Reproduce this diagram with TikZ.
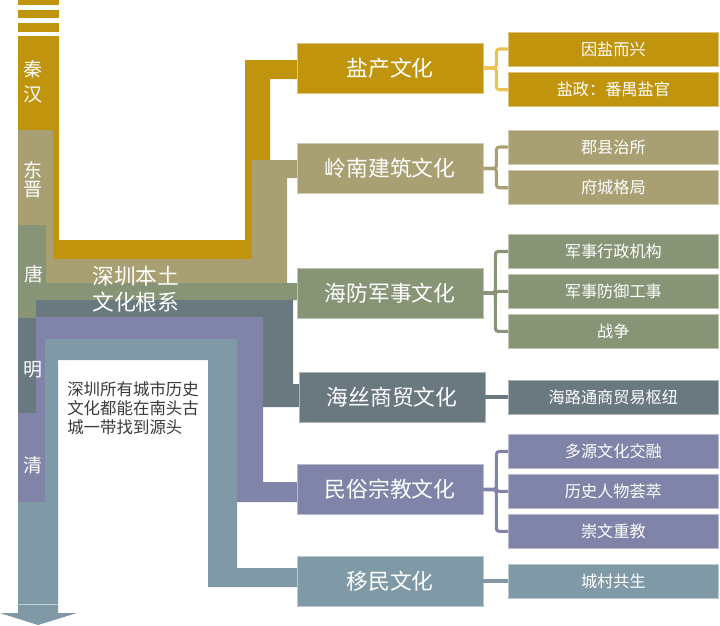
\documentclass[tikz,border=0pt]{standalone}
\usepackage{fontspec}
\setmainfont{Noto Sans CJK SC}
\usetikzlibrary{positioning}

\definecolor{qinhan}{HTML}{C1940E}
\definecolor{qinhanlt}{HTML}{EBC350}
\definecolor{dongjin}{HTML}{A8A073}
\definecolor{tang}{HTML}{879475}
\definecolor{ming}{HTML}{6A7880}
\definecolor{qing}{HTML}{8084A8}
\definecolor{yimin}{HTML}{7F99A6}
\definecolor{notetext}{HTML}{3A3A3A}

\tikzset{
  mainbox/.style={fill=#1, draw=#1!55!white, line width=0.5pt, text=white,
    minimum width=4.65cm, minimum height=1.25cm, inner sep=0pt,
    font=\fontsize{15.5pt}{18pt}\selectfont},
  subbox/.style={fill=#1, draw=#1!55!white, line width=0.5pt, text=white,
    minimum width=5.25cm, minimum height=0.85cm, inner sep=0pt, anchor=west,
    font=\fontsize{11.5pt}{14pt}\selectfont},
  brk/.style={draw=#1, line width=2.2pt, rounded corners=2pt},
  era/.style={text=white, inner sep=0pt, font=\fontsize{13.5pt}{16pt}\selectfont}
}

\begin{document}
\begin{tikzpicture}[x=0.025cm,y=-0.025cm]

\useasboundingbox (0,0) rectangle (720,625);

% top stripes
\fill[qinhan] (18,0) rectangle (59,5);
\fill[qinhan] (18,10) rectangle (59,18);
\fill[qinhan] (18,23) rectangle (59,32);

% era bands
\fill[qinhan] (18,36) -- (59,36) -- (59,240) -- (245,240) -- (245,60) -- (300,60)
  -- (300,79) -- (270,79) -- (270,259) -- (18,259) -- cycle;
\fill[dongjin] (18,130) -- (53,130) -- (53,259) -- (252,259) -- (252,160) -- (300,160)
  -- (300,178) -- (287,178) -- (287,283) -- (18,283) -- cycle;
\fill[tang] (18,225) -- (46,225) -- (46,283) -- (300,283) -- (300,300)
  -- (36,300) -- (36,318) -- (18,318) -- cycle;
\fill[ming] (18,413) -- (18,318) -- (36,318) -- (36,300) -- (293,300) -- (293,384)
  -- (303,384) -- (303,407) -- (263,407) -- (263,318) -- (45,318) -- (45,413) -- cycle;
\fill[qing] (18,502) -- (18,413) -- (36,413) -- (36,317) -- (263,317) -- (263,482)
  -- (300,482) -- (300,502) -- (237,502) -- (237,339) -- (45,339) -- (45,502) -- cycle;
\fill[yimin] (18,613) -- (18,502) -- (45,502) -- (45,339) -- (237,339) -- (237,568)
  -- (300,568) -- (300,587) -- (208,587) -- (208,360) -- (58,360) -- (58,613) -- cycle;

% arrow head
\fill[yimin] (0,613) -- (77,613) -- (38,625) -- cycle;
\draw[yimin!45!white, line width=0.7pt] (18,604) -- (58,604);

% era labels
\node[era] (qin) at (33,69) {秦};
\node[era] (han) at (33,94) {汉};
\node[era] (dong) at (33,170) {东};
\node[era] (jin) at (33,190) {晋};
\node[era] (tangl) at (34,274) {唐};
\node[era] (mingl) at (33,370) {明};
\node[era] (qingl) at (33,465) {清};

% root title and note
\node[text=white, align=left, anchor=west, inner sep=0pt,
  font=\fontsize{15.5pt}{18.5pt}\selectfont] (root) at (92,289) {深圳本土\\文化根系};
\node[text=notetext, align=left, anchor=north west, inner sep=0pt,
  font=\fontsize{11.7pt}{13.6pt}\selectfont] (note) at (67,381)
  {深圳所有城市历史\\文化都能在南头古\\城一带找到源头};

% main boxes
\node[mainbox=qinhan] (salt) at (390,68) {盐产文化};
\node[mainbox=dongjin] (lingnan) at (390,168.5) {岭南建筑文化};
\node[mainbox=tang] (haifang) at (390,293) {海防军事文化};
\node[mainbox=ming] (haisi) at (392,397) {海丝商贸文化};
\node[mainbox=qing] (minsu) at (390,489.5) {民俗宗教文化};
\node[mainbox=yimin] (yiminb) at (390,581) {移民文化};

% sub boxes
\node[subbox=qinhan] (yinyan) at (508,49) {因盐而兴};
\node[subbox=qinhan, below=0.15cm of yinyan] (yanzheng) {盐政：番禺盐官};
\node[subbox=dongjin] (junxian) at (508,147) {郡县治所};
\node[subbox=dongjin, below=0.15cm of junxian] (fucheng) {府城格局};
\node[subbox=tang] (junzheng) at (508,251.5) {军事行政机构};
\node[subbox=tang, below=0.13cm of junzheng] (junfang) {军事防御工事};
\node[subbox=tang, below=0.13cm of junfang] (zhanzheng) {战争};
\node[subbox=ming] (hailu) at (508,397) {海路通商贸易枢纽};
\node[subbox=qing] (duoyuan) at (508,451.5) {多源文化交融};
\node[subbox=qing, below=0.13cm of duoyuan] (lishi) {历史人物荟萃};
\node[subbox=qing, below=0.13cm of lishi] (chongwen) {崇文重教};
\node[subbox=yimin] (chengcun) at (508,581) {城村共生};

% brackets
\draw[brk=qinhanlt] (salt.east) -- ++(13,0) |- (yinyan.west);
\draw[brk=qinhanlt] (salt.east) -- ++(13,0) |- (yanzheng.west);
\draw[brk=dongjin] (lingnan.east) -- ++(13,0) |- (junxian.west);
\draw[brk=dongjin] (lingnan.east) -- ++(13,0) |- (fucheng.west);
\draw[brk=tang] (haifang.east) -- ++(12,0) |- (junzheng.west);
\draw[brk=tang] (haifang.east) -- ++(12,0) |- (junfang.west);
\draw[brk=tang] (haifang.east) -- ++(12,0) |- (zhanzheng.west);
\draw[brk=ming] (haisi.east) -- (hailu.west);
\draw[brk=qing] (minsu.east) -- ++(13,0) |- (duoyuan.west);
\draw[brk=qing] (minsu.east) -- ++(13,0) |- (lishi.west);
\draw[brk=qing] (minsu.east) -- ++(13,0) |- (chongwen.west);
\draw[brk=yimin] (yiminb.east) -- (chengcun.west);

\end{tikzpicture}
\end{document}
